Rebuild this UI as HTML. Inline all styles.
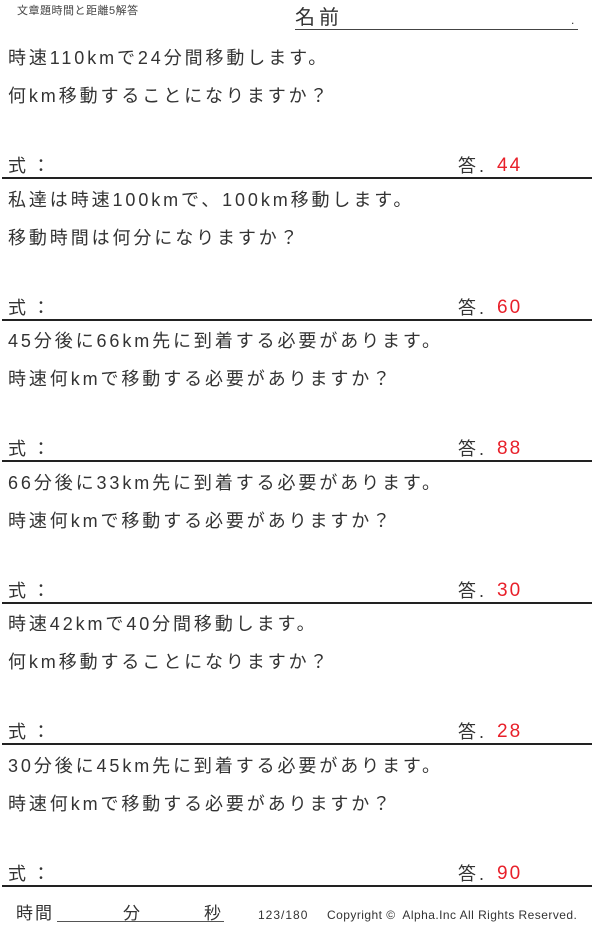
<!DOCTYPE html>
<html><head><meta charset="utf-8"><style>
body{margin:0;width:600px;height:928px;background:#fff;position:relative;overflow:hidden;font-family:"Liberation Sans","Noto Sans CJK JP",sans-serif;color:#333}
.a{position:absolute;white-space:nowrap;line-height:1}
.q{font-size:18px;left:8px;letter-spacing:2.9px}
.hr{position:absolute;left:2px;width:590px;height:2px;background:#222}
.r{color:#e8202a;font-size:19px;letter-spacing:2px}
</style></head><body>
<div class="a" style="left:17px;top:6px;font-size:11px;color:#444;letter-spacing:0.5px">文章題時間と距離5解答</div>
<div class="a" style="left:295px;top:8px;font-size:20px;letter-spacing:4px">名前</div>
<div style="position:absolute;left:295px;top:29px;width:283px;height:1px;background:#444"></div>
<div class="a" style="left:571px;top:14px;font-size:12px">.</div>

<div id="c"></div>
<script>
var qs=[["時速110kmで24分間移動します。","何km移動することになりますか？","44"],
["私達は時速100kmで、100km移動します。","移動時間は何分になりますか？","60"],
["45分後に66km先に到着する必要があります。","時速何kmで移動する必要がありますか？","88"],
["66分後に33km先に到着する必要があります。","時速何kmで移動する必要がありますか？","30"],
["時速42kmで40分間移動します。","何km移動することになりますか？","28"],
["30分後に45km先に到着する必要があります。","時速何kmで移動する必要がありますか？","90"]];
var h="";
for(var i=0;i<6;i++){var o=i*141.6;
h+='<div class="a q" style="top:'+(49+o)+'px">'+qs[i][0]+'</div>';
h+='<div class="a q" style="top:'+(87+o)+'px">'+qs[i][1]+'</div>';
h+='<div class="a q" style="top:'+(157+o)+'px;letter-spacing:6px">式：</div>';
h+='<div class="a" style="font-size:18px;left:458px;letter-spacing:3px;top:'+(157+o)+'px">答.</div>';
h+='<div class="a r" style="left:497px;top:'+(156+o)+'px">'+qs[i][2]+'</div>';
h+='<div class="hr" style="top:'+(177+o)+'px"></div>';}
document.getElementById("c").outerHTML=h;
</script>
<div class="a" style="left:16px;top:905px;font-size:17px;letter-spacing:2px">時間</div>
<div style="position:absolute;left:57px;top:921px;width:167px;height:1px;background:#555"></div>
<div class="a" style="left:123px;top:905px;font-size:17px">分</div>
<div class="a" style="left:204px;top:905px;font-size:17px">秒</div>
<div class="a" style="left:258px;top:909px;font-size:12px;color:#333;letter-spacing:1px">123/180</div>
<div class="a" style="left:327px;top:909px;font-size:12px;color:#333;letter-spacing:0.45px">Copyright ©&nbsp; Alpha.Inc All Rights Reserved.</div>
</body></html>
